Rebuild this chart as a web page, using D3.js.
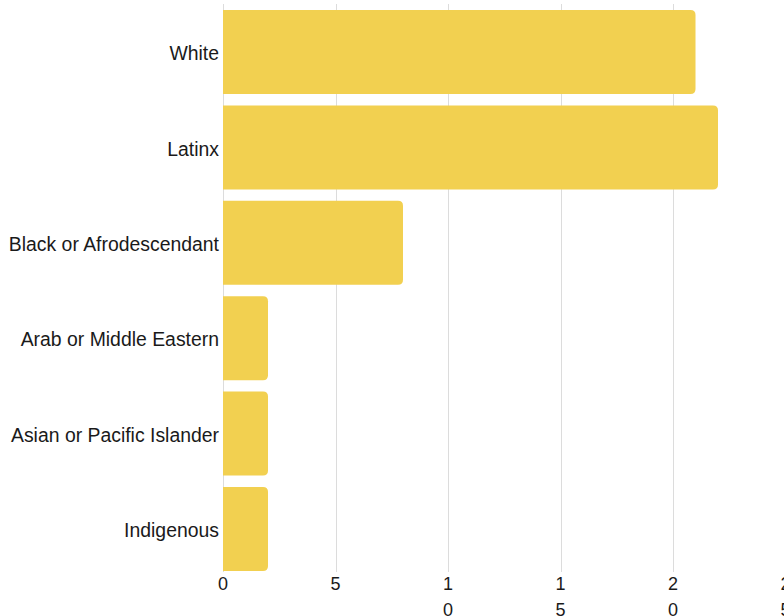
<!DOCTYPE html>
<meta charset="utf-8">
<style>
body { margin: 0; background: #fff; }
text { font-family: "Liberation Sans", Arial, sans-serif; fill: #1a1a1a; }
.grid line { stroke: #dcdcdc; stroke-width: 1px; }
</style>
<svg width="784" height="616"></svg>
<script src="https://cdn.jsdelivr.net/npm/d3@7"></script>
<script>

var categories = ["White", "Latinx", "Black or Afrodescendant", "Arab or Middle Eastern", "Asian or Pacific Islander", "Indigenous"];
var values = [21, 22, 8, 2, 2, 2];
var xTicks = [0, 5, 10, 15, 20, 25];

var svg = d3.select("svg");

var x = d3.scaleLinear()
    .domain([0, 25])
    .range([223, 785.5]);

var y = d3.scaleBand()
    .domain(categories)
    .range([4.3, 576.7])
    .paddingInner(0.12)
    .paddingOuter(0.06);

// gridlines
svg.append("g")
    .attr("class", "grid")
    .selectAll("line")
    .data(xTicks.slice(1))
    .enter().append("line")
    .attr("x1", function(d) { return Math.round(x(d)) + 0.5; })
    .attr("x2", function(d) { return Math.round(x(d)) + 0.5; })
    .attr("y1", 4)
    .attr("y2", 572);

// left axis line
svg.append("line")
    .attr("x1", 223.5).attr("x2", 223.5)
    .attr("y1", 4).attr("y2", 572)
    .attr("stroke", "#dcdcdc");

// bar with rounded right corners only
function barPath(d, i) {
    var x0 = x(0), x1 = x(d), y0 = y(categories[i]), h = y.bandwidth(), r = 5;
    return "M" + x0 + "," + y0 +
        "H" + (x1 - r) +
        "Q" + x1 + "," + y0 + " " + x1 + "," + (y0 + r) +
        "V" + (y0 + h - r) +
        "Q" + x1 + "," + (y0 + h) + " " + (x1 - r) + "," + (y0 + h) +
        "H" + x0 + "Z";
}

svg.append("g")
    .selectAll("path")
    .data(values)
    .enter().append("path")
    .attr("d", barPath)
    .attr("fill", "#f2d050");

// category labels
svg.append("g")
    .selectAll("text")
    .data(categories)
    .enter().append("text")
    .attr("x", 219)
    .attr("y", function(d) { return y(d) + y.bandwidth() / 2 + 1.5; })
    .attr("dy", "0.35em")
    .attr("text-anchor", "end")
    .style("font-size", "19.4px")
    .text(function(d) { return d; });

// x tick labels, wrapped one digit per line
var tl = svg.append("g")
    .selectAll("text")
    .data(xTicks)
    .enter().append("text")
    .attr("text-anchor", "middle")
    .style("font-size", "18px");

tl.selectAll("tspan")
    .data(function(d) { return String(d).split("").map(function(c) { return {c: c, v: d}; }); })
    .enter().append("tspan")
    .attr("x", function(d) { return x(d.v); })
    .attr("y", function(d, i) { return 590 + i * 26; })
    .text(function(d) { return d.c; });

</script>
